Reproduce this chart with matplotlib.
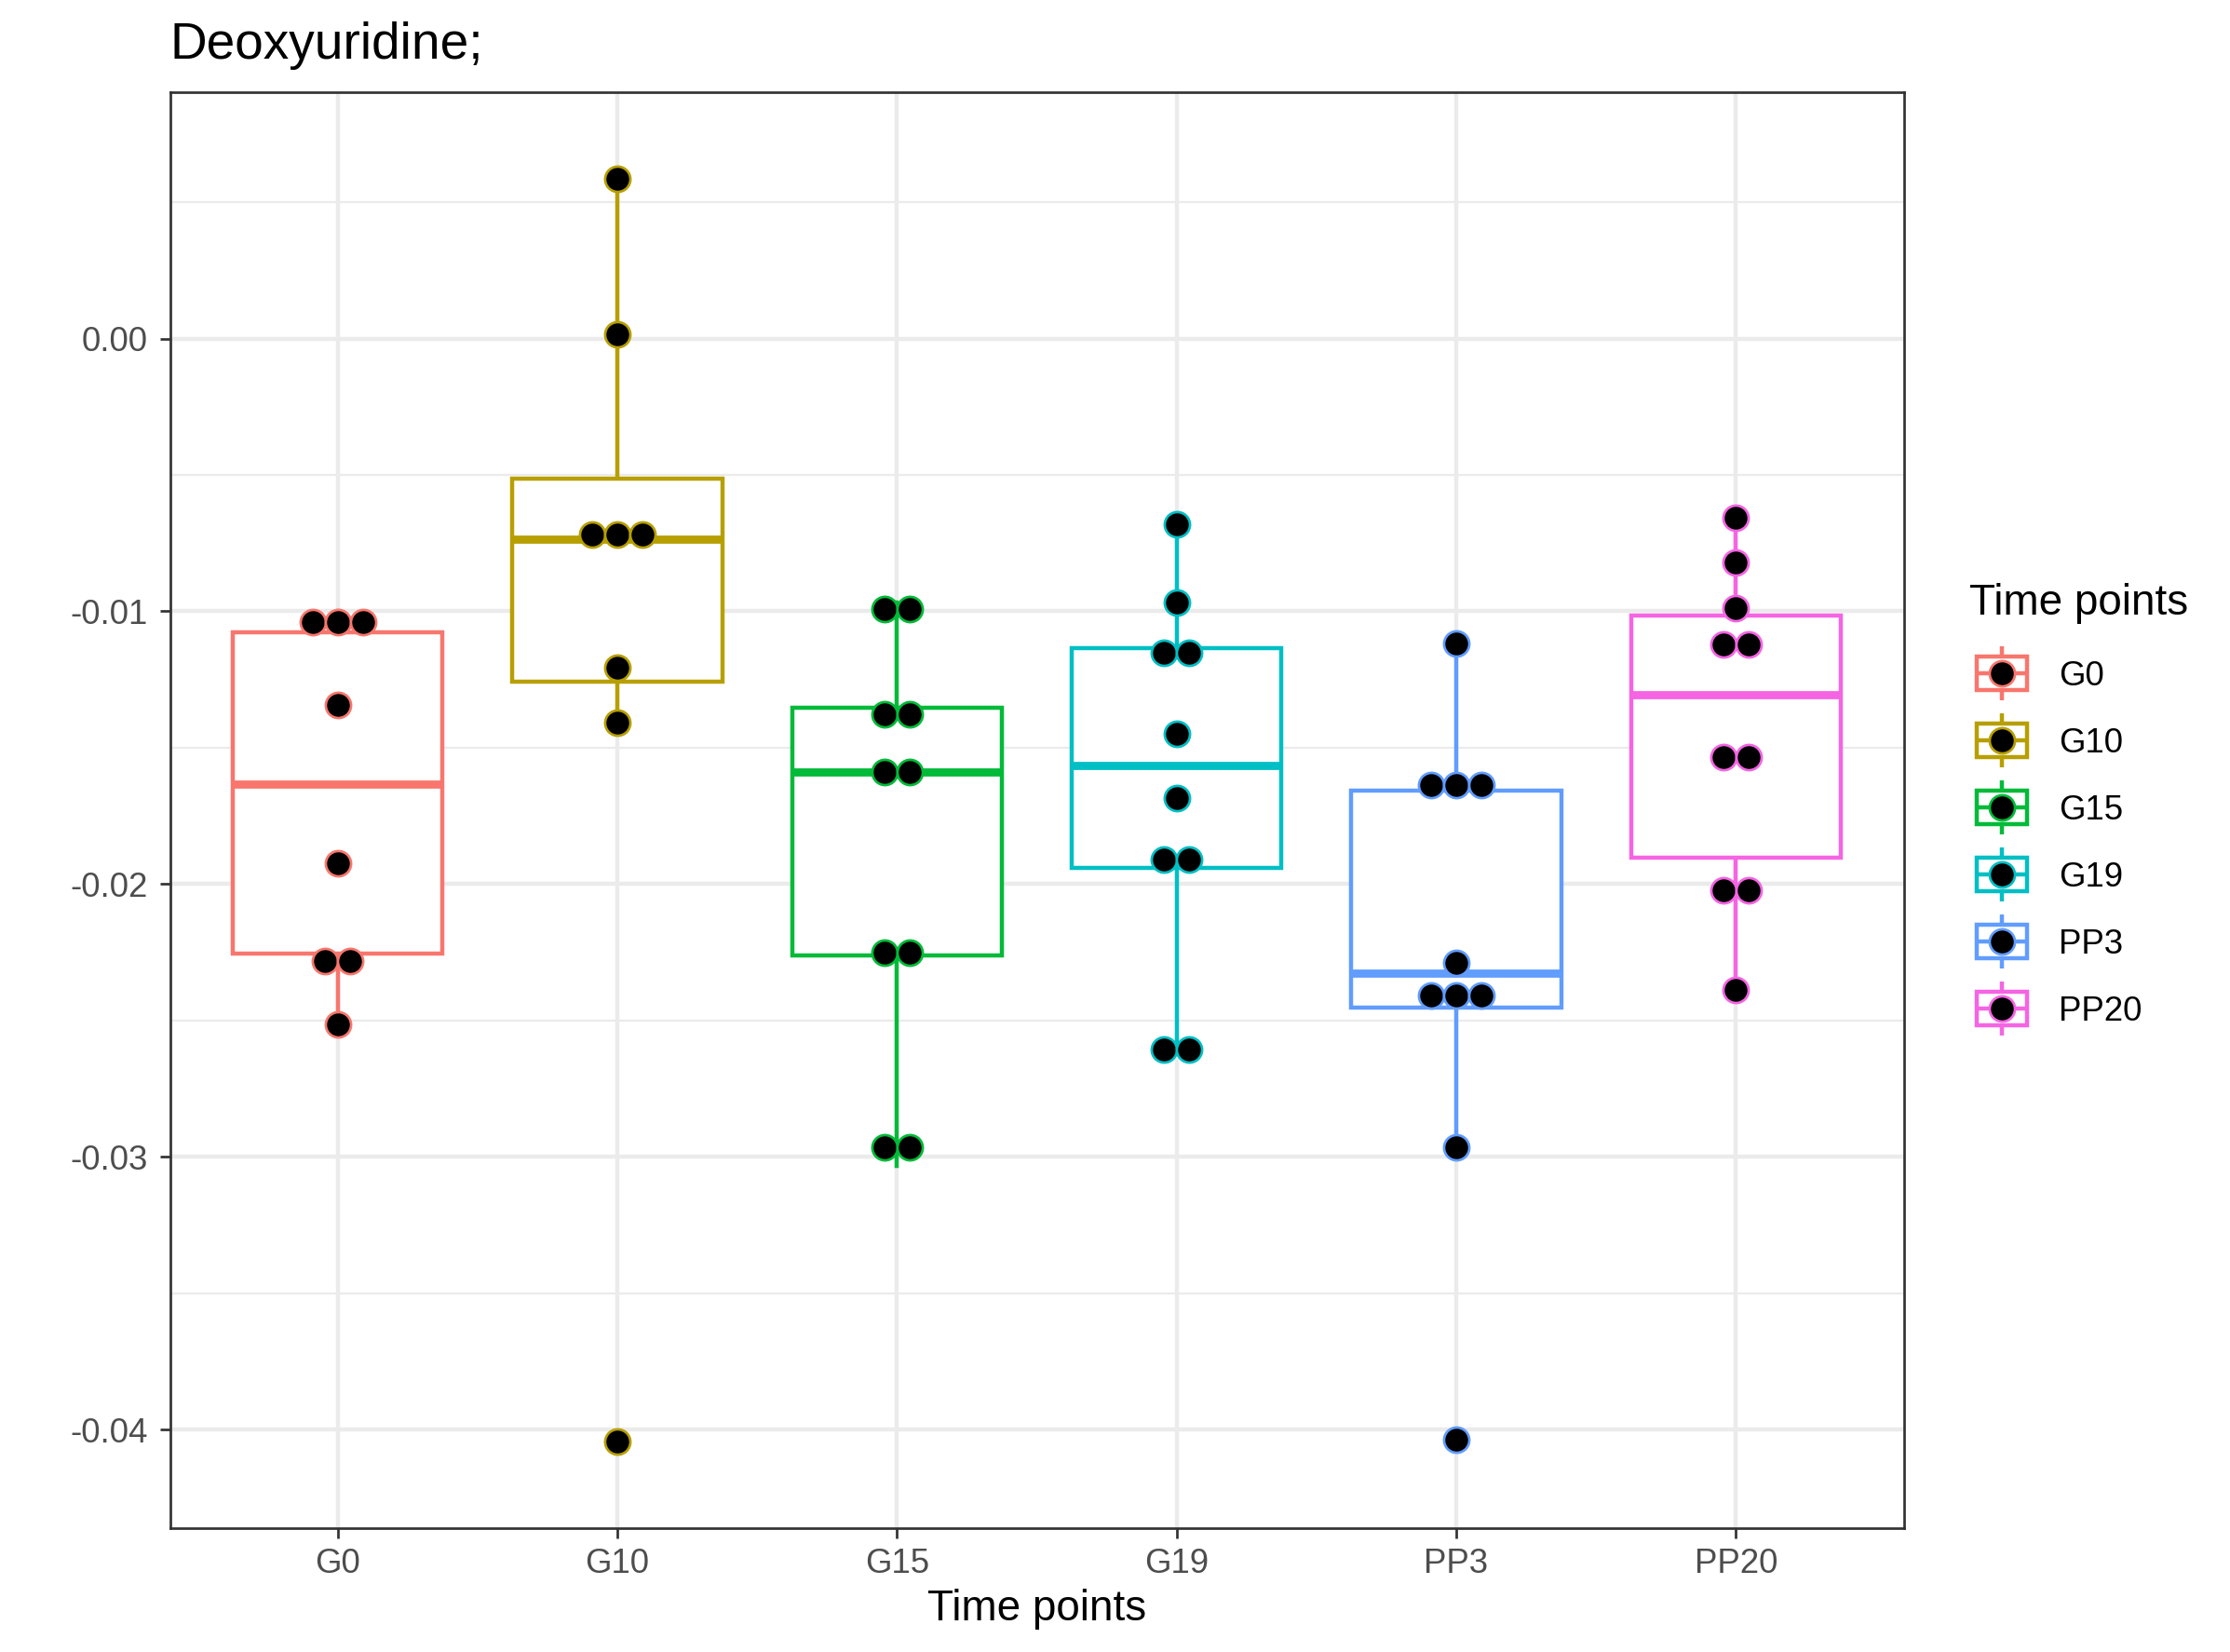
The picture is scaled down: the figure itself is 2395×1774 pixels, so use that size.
import numpy as np
import matplotlib
matplotlib.use("Agg")
import matplotlib.pyplot as plt
from matplotlib.patches import Rectangle

plt.rcParams['font.family'] = ['Liberation Sans', 'DejaVu Sans']

# ---- data ----
groups = ["G0", "G10", "G15", "G19", "PP3", "PP20"]
colors = ["#F8766D", "#B79F00", "#00BA38", "#00BFC4", "#619CFF", "#F564E3"]

g0 = [-0.02516, -0.02333, -0.02229, -0.01922, -0.01344, -0.0108, -0.0107, -0.0100]
g10 = [-0.04045, -0.01409, -0.01208, -0.00746, -0.00724, -0.00690, 0.00017, 0.00587]
g15 = [-0.03035, -0.02895, -0.02271, -0.02231, -0.0162, -0.0156, -0.01424, -0.01332, -0.0102, -0.00966]
g19 = [-0.0262, -0.0259, -0.01971, -0.01847, -0.01684, -0.01448, -0.01187, -0.01119, -0.00968, -0.0068]
pp3 = [-0.04038, -0.02964, -0.02452, -0.02450, -0.02362, -0.0229, -0.0167, -0.01654, -0.01602, -0.01118]
pp20 = [-0.02388, -0.02042, -0.02, -0.01608, -0.01462, -0.0115, -0.0109, -0.00989, -0.0082, -0.00657]
values = [g0, g10, g15, g19, pp3, pp20]

y_ticks = [0.0, -0.01, -0.02, -0.03, -0.04]
y_minor = [0.005, -0.005, -0.015, -0.025, -0.035]

W, H, DPI = 2395, 1774, 300
GRID = "#EBEBEB"
DARK = "#333333"
TXT = "#4D4D4D"


def dot_bins(vals, bw):
    # ggplot-style dotdensity binning: bin starts at first value, center = mid of min/max
    vals = np.sort(vals)
    bins = []
    end = -np.inf
    for v in vals:
        if v >= end:
            bins.append([v])
            end = v + bw
        else:
            bins[-1].append(v)
    return [((b[0] + b[-1]) / 2, len(b)) for b in bins]


fig = plt.figure(figsize=(W / DPI, H / DPI), dpi=DPI)
left, right, top, bottom = 182.5, 2044.5, 99, 1641
ax = fig.add_axes([left / W, 1 - bottom / H, (right - left) / W, (bottom - top) / H])

all_vals = np.concatenate(values)
bw = (all_vals.max() - all_vals.min()) / 30
dotsize = 0.6
lo, hi = all_vals.min() - bw / 2, all_vals.max() + bw / 2
pad = (hi - lo) * 0.05
ax.set_ylim(lo - pad, hi + pad)
ax.set_xlim(0.4, len(groups) + 0.6)

pos = np.arange(1, len(groups) + 1)

# boxplots
bp = ax.boxplot(values, positions=pos, widths=0.75, showfliers=False, showcaps=False,
                patch_artist=True, whis=1.5, zorder=2)
for i, c in enumerate(colors):
    bp['boxes'][i].set(facecolor="white", edgecolor=c, linewidth=1.07, zorder=2)
    bp['medians'][i].set(color=c, linewidth=2.1, solid_capstyle='butt', zorder=3)
    for w in bp['whiskers'][2 * i:2 * i + 2]:
        w.set(color=c, linewidth=1.07, zorder=1.9)

# dot diameter in pixels -> x spacing in data units
ax_h_px = bottom - top
ax_w_px = right - left
ypx = ax_h_px / (ax.get_ylim()[1] - ax.get_ylim()[0])
xpx = ax_w_px / (ax.get_xlim()[1] - ax.get_xlim()[0])
diam_px = bw * dotsize * ypx
dx = diam_px / xpx
ms = (diam_px - 2.7) * 72 / DPI + 0.65

for i, (vals, c) in enumerate(zip(values, colors)):
    xs, ys = [], []
    for center, n in dot_bins(vals, bw):
        for k in range(n):
            xs.append(pos[i] + (k - (n - 1) / 2) * dx)
            ys.append(center)
    ax.scatter(xs, ys, s=ms ** 2, c="black", edgecolors=c, linewidths=0.65, zorder=4)

# axes styling (theme_bw-like)
ax.set_xticks(pos)
ax.set_xticklabels(groups)
ax.set_yticks(y_ticks)
ax.set_yticklabels([f"{t:.2f}" if t != 0 else "0.00" for t in y_ticks])
ax.set_yticks(y_minor, minor=True)
ax.grid(True, which='major', color=GRID, linewidth=1.07)
ax.grid(True, which='minor', axis='y', color=GRID, linewidth=0.53)
ax.set_axisbelow(True)
ax.tick_params(axis='both', which='major', direction='out', length=2.75, width=0.65,
               color=DARK, labelsize=8.8, labelcolor=TXT)
ax.tick_params(axis='x', pad=2.2)
ax.tick_params(axis='y', pad=2.9)
ax.tick_params(which='minor', length=0)
for s in ax.spines.values():
    s.set_color(DARK)
    s.set_linewidth(0.65)

# titles
fig.text(left / W, 1 - 62.7 / H, "Deoxyuridine;", fontsize=13.2, ha='left', va='baseline')
fig.text((left + right) / 2 / W, 1 - 1740 / H, "Time points", fontsize=11, ha='center', va='baseline')

# legend drawn in pixel coordinates
lg = fig.add_axes([0, 0, 1, 1], facecolor='none')
lg.set_xlim(0, W)
lg.set_ylim(H, 0)
lg.axis('off')
lg.text(2115, 660, "Time points", fontsize=11, ha='left', va='baseline')
key_cx, key_cy0, key_step, key = 2150, 723, 72, 72
for i, (g, c) in enumerate(zip(groups, colors)):
    cy = key_cy0 + i * key_step
    lg.plot([key_cx, key_cx], [cy - 0.4 * key, cy - 0.25 * key], color=c, lw=1.07, solid_capstyle='butt')
    lg.plot([key_cx, key_cx], [cy + 0.25 * key, cy + 0.4 * key], color=c, lw=1.07, solid_capstyle='butt')
    lg.add_patch(Rectangle((key_cx - 0.375 * key, cy - 0.25 * key), 0.75 * key, 0.5 * key,
                           facecolor="white", edgecolor=c, lw=1.07))
    lg.plot([key_cx - 0.375 * key, key_cx + 0.375 * key], [cy, cy], color=c, lw=1.07, solid_capstyle='butt')
    lg.scatter([key_cx], [cy], s=ms ** 2, c="black", edgecolors=c, linewidths=0.65, zorder=4)
    lg.text(2211, cy, g, fontsize=8.8, ha='left', va='center_baseline')

fig.savefig("out.png", dpi=DPI, facecolor="white")
